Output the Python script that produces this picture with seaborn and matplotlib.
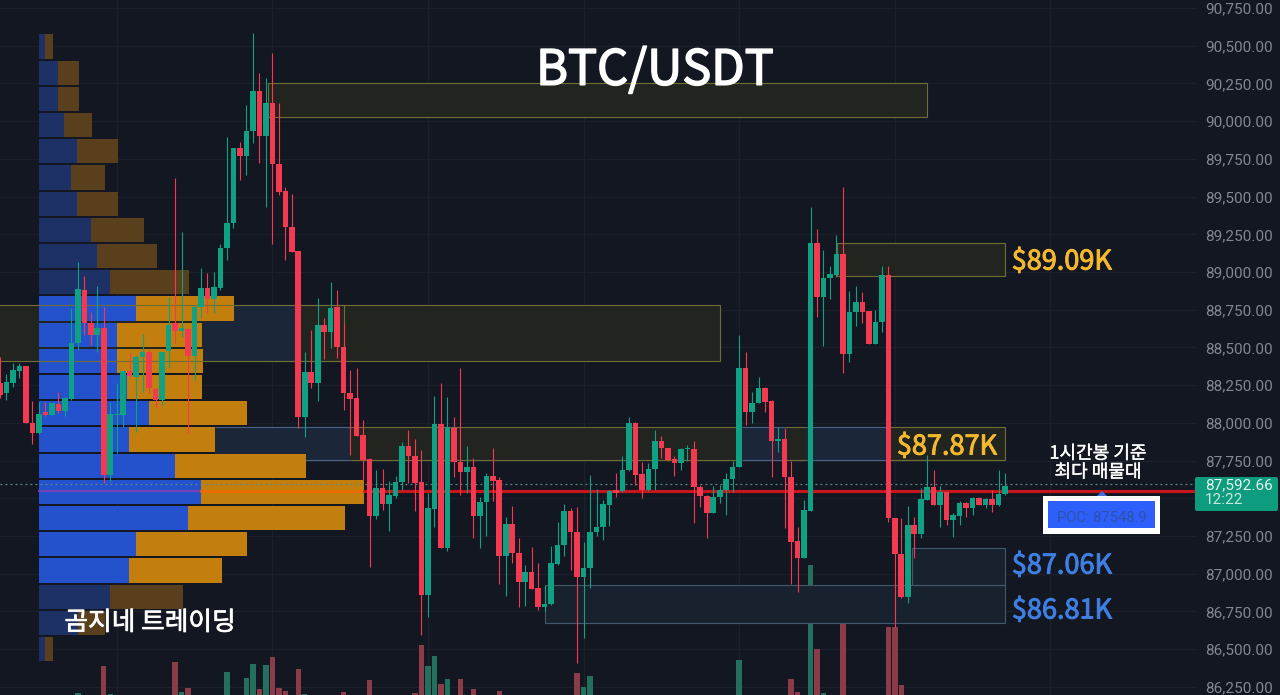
# plot.py - BTC/USDT 1h chart with volume profile and marked zones

import numpy as np
import pandas as pd
import seaborn as sns
import matplotlib.pyplot as plt
import matplotlib.patheffects as pe
from matplotlib.patches import Rectangle, FancyBboxPatch, Polygon
from matplotlib.ticker import FuncFormatter
from matplotlib.transforms import Affine2D

# ---------------- DATA ----------------
OPENS = [
    88264, 88198, 88264, 88344, 88377, 88000, 87933, 88072, 88052, 88125,
    88079, 88158, 88530, 88881, 88662, 88583, 88629, 87655, 88052, 88052,
    88344, 88304, 88437, 88470, 88225, 88152, 88477, 88662, 88609, 88622,
    88443, 88768, 88894, 88821, 88894, 89159, 89325, 89822, 89769, 89935,
    90200, 89902, 90120, 89716, 89537, 89298, 89139, 88039, 88337, 88264,
    88649, 88603, 88768, 88503, 88198, 88165, 87920, 87761, 87383, 87569,
    87463, 87516, 87608, 87847, 87781, 87608, 86859, 87429, 87993, 87171,
    87966, 87741, 87675, 87708, 87383, 87476, 87648, 87622, 87118, 87330,
    87138, 86946, 87012, 86906, 86780, 86800, 87065, 87191, 87416, 87277,
    86979, 87038, 87277, 87310, 87456, 87555, 87549, 87688, 88000, 87661,
    87555, 87694, 87880, 87834, 87761, 87734, 87827, 87827, 87575, 87516,
    87403, 87509, 87555, 87628, 87708, 88364, 88072, 88132, 88231, 88145,
    87880, 87893, 87641, 87217, 87105, 87416, 89192, 88834, 88960, 88980,
    89120, 88457, 88735, 88801, 88742, 88523, 88669, 88980, 87370, 87131,
    86846, 87323, 87264, 87489, 87575, 87456, 87542, 87356, 87383, 87469,
    87436, 87502, 87456, 87496, 87456, 87529,
]
CLOSES = [
    88185, 88271, 88351, 88377, 88000, 87933, 88059, 88052, 88132, 88079,
    88165, 88530, 88888, 88662, 88583, 88629, 87655, 88059, 88059, 88344,
    88311, 88437, 88470, 88231, 88152, 88470, 88649, 88609, 88629, 88443,
    88768, 88894, 88821, 88901, 89159, 89325, 89822, 89769, 89935, 90200,
    89902, 90120, 89716, 89530, 89298, 89133, 88039, 88337, 88264, 88649,
    88603, 88762, 88503, 88198, 88158, 87913, 87754, 87383, 87569, 87463,
    87522, 87608, 87847, 87781, 87602, 86859, 87436, 87993, 87171, 87973,
    87741, 87675, 87708, 87383, 87476, 87648, 87615, 87118, 87330, 87138,
    86946, 87012, 86899, 86780, 86800, 87071, 87191, 87416, 87277, 86979,
    87038, 87277, 87310, 87463, 87549, 87535, 87688, 88000, 87655, 87555,
    87694, 87880, 87834, 87754, 87734, 87827, 87834, 87575, 87516, 87403,
    87509, 87555, 87628, 87708, 88364, 88072, 88132, 88231, 88139, 87880,
    87893, 87641, 87211, 87105, 87423, 89192, 88834, 88960, 88987, 89120,
    88457, 88735, 88801, 88735, 88523, 88669, 88980, 87370, 87131, 86846,
    87323, 87264, 87496, 87575, 87456, 87542, 87356, 87390, 87469, 87436,
    87502, 87456, 87496, 87456, 87529, 87582,
]
HIGHS = [
    88437, 88324, 88397, 88397, 88377, 88145, 88139, 88139, 88132, 88205,
    88172, 88762, 89066, 88974, 88735, 88907, 88768, 88139, 88264, 88344,
    88463, 88450, 88589, 88483, 88231, 88470, 88834, 89623, 89265, 88629,
    88781, 89027, 88994, 89000, 89186, 89895, 89822, 89862, 90107, 90584,
    90319, 90286, 90452, 90120, 89564, 89517, 89139, 88470, 88616, 88828,
    88695, 88934, 88881, 88662, 88351, 88364, 88019, 87767, 87688, 87694,
    87615, 87648, 87873, 87953, 87893, 87820, 87535, 88178, 88264, 88172,
    88039, 88364, 87847, 87767, 87509, 87668, 87834, 87641, 87376, 87449,
    87237, 87058, 87178, 87071, 86926, 87184, 87343, 87463, 87436, 87443,
    87211, 87655, 87562, 87489, 87555, 87668, 87781, 88039, 88006, 87741,
    87734, 87953, 87913, 87834, 87781, 87834, 87853, 87880, 87588, 87522,
    87582, 87588, 87668, 87748, 88583, 88470, 88205, 88304, 88238, 88152,
    87973, 87966, 87748, 87310, 87489, 89431, 89285, 89146, 89040, 89245,
    89564, 88874, 88907, 88868, 88742, 88748, 89040, 89040, 87370, 87370,
    87449, 87376, 87569, 87787, 87688, 87582, 87542, 87403, 87482, 87476,
    87509, 87509, 87502, 87555, 87688, 87668,
]
LOWS = [
    88165, 88152, 88238, 88298, 88000, 87860, 87926, 88046, 88052, 88066,
    88046, 88152, 88483, 88583, 88516, 88470, 87602, 87615, 87801, 87973,
    88304, 87940, 88205, 88198, 88099, 88119, 88364, 88530, 88569, 87933,
    88284, 88695, 88728, 88728, 88881, 89080, 89292, 89610, 89643, 89855,
    89723, 89431, 89186, 89511, 89080, 89133, 87966, 87907, 88231, 88145,
    88424, 88496, 88430, 88086, 87787, 87913, 87622, 87045, 87363, 87423,
    87284, 87502, 87555, 87602, 87416, 86594, 86714, 87310, 87171, 87151,
    87641, 87522, 87535, 87237, 87171, 87250, 87482, 86932, 86853, 87071,
    86780, 86787, 86899, 86760, 86753, 86793, 87058, 87118, 87025, 86409,
    86574, 86906, 87250, 87224, 87317, 87509, 87542, 87681, 87588, 87502,
    87549, 87555, 87767, 87748, 87648, 87688, 87748, 87337, 87443, 87237,
    87403, 87469, 87390, 87542, 87708, 87986, 88000, 88132, 88072, 87641,
    87807, 87303, 86932, 86879, 87105, 87416, 88702, 88510, 88821, 88967,
    88331, 88404, 88642, 88662, 88523, 88523, 88603, 87343, 86647, 86839,
    86806, 87105, 87237, 87489, 87456, 87310, 87323, 87244, 87323, 87376,
    87390, 87456, 87436, 87410, 87449, 87522,
]

# volume only for bars that reach into the frame (other bars are cropped away)
VOLUME_BARS = [
    12, 16, 17, 27, 28, 29, 35, 38, 39, 40, 41, 42, 43, 44, 46, 47, 53, 57,
    64, 65, 66, 67, 68, 69, 71, 73, 77, 89, 90, 91, 114, 122, 123, 125, 126,
    127, 130, 137, 138, 139,
]
VOLUMES = [
    2, 29, 1, 33, 3, 7, 23, 17, 31, 6, 30, 38, 7, 4, 26, 1, 3, 15,
    2, 50, 29, 39, 11, 16, 16, 6, 4, 22, 8, 19, 35, 16, 3, 130, 46,
    2, 72, 68, 68, 10,
]

PROFILE_PRICES = [
    90495, 90321, 90147, 89974, 89800, 89627, 89453, 89279, 89106, 88932,
    88758, 88585, 88411, 88237, 88064, 87890, 87716, 87543, 87369, 87195,
    87022, 86848, 86674, 86501,
]
PROFILE_BUY = [
    6.5, 19.5, 19.5, 25.5, 38.5, 32.5, 38.5, 52.5, 58.5, 71.5, 97.5, 78.5,
    78, 88.5, 110.5, 90.5, 136.5, 162.5, 149.5, 97.5, 90.5, 71.5, 39.5, 6.5,
]
PROFILE_SELL = [
    7.7, 21, 21, 28, 41, 34, 41, 53, 60, 79, 98, 85,
    86, 75, 98, 86, 131, 163, 157, 111, 93, 73, 27, 7.7,
]
VALUE_AREA = [False] * 10 + [True] * 11 + [False] * 3

# (first bar, last bar, low price, high price, kind)
ZONES = [
    (41.3, 143.0, 90027, 90253, "yellow"),
    (-1.0, 111.0, 88410, 88781, "yellow"),
    (46.3, 53.05, 88410, 88781, "yellow"),
    (31.3, 46.3, 88410, 88781, "blue"),
    (33.2, 54.0, 87757, 87970, "blue"),
    (54.0, 114.0, 87757, 87970, "band"),
    (114.4, 121.0, 87757, 87970, "blue"),
    (121.0, 124.3, 87757, 87970, "band"),
    (124.3, 137.0, 87757, 87970, "blue"),
    (137.0, 155.0, 87757, 87970, "yellow"),
    (137.0, 153.0, 87757, 87970, "band"),
    (129.1, 155.0, 88974, 89192, "yellow"),
    (140.7, 155.0, 86926, 87171, "slate"),
    (84.05, 155.0, 86674, 86926, "slate"),
]

PRICE_TICKS = list(range(86250, 90751, 250))
DAY_TICKS = [18, 42, 66, 90, 114, 138, 162]
POC_PRICE = 87548.9
LAST_PRICE = 87592.66
# ----------------------------------------

BG = "#131722"
GREEN = "#0ea183"
RED = "#f33a50"
GREEN_VOL = "#24705f"
RED_VOL = "#8c3c49"
ZONE_STYLE = {
    "yellow": ("#222420", "#6f6e35"),
    "band": ("#222420", "#6f6e35"),
    "blue": ("#1b2739", "#46648e"),
    "slate": ("#18222f", "#41596a"),
}
KR_FONT = ["Noto Sans CJK KR", "DejaVu Sans"]

BAR_PX = 6.484
PRICE_PX = 6.628
AXES_W = 1196
VOL_FLOOR = 86197

sns.set_theme(style="dark", rc={
    "figure.facecolor": BG,
    "axes.facecolor": BG,
    "savefig.facecolor": BG,
})
plt.rcParams["font.family"] = KR_FONT

fig = plt.figure(figsize=(12.8, 6.95), dpi=100)
ax = fig.add_axes([0, 0, AXES_W / 1280, 1])

# image pixel coordinates, only for the overlays drawn by hand on the screenshot
px = Affine2D().scale(1 / 1280, -1 / 695).translate(0, 1) + fig.transFigure


def thick(color, width):
    # the installed CJK face is lighter than the one in the picture
    return [pe.withStroke(linewidth=width, foreground=color)]


candles = pd.DataFrame({"open": OPENS, "close": CLOSES, "high": HIGHS, "low": LOWS})
candles["bar"] = candles.index
candles["up"] = candles["close"] >= candles["open"]
candles["base"] = candles[["open", "close"]].min(axis=1)
candles["body"] = (candles["close"] - candles["open"]).abs()

# volume along the bottom edge
vol = pd.DataFrame({"bar": VOLUME_BARS, "volume": VOLUMES})
vol["up"] = candles.loc[vol["bar"], "up"].values
vol["height"] = vol["volume"] * PRICE_PX
for up, color in [(True, GREEN_VOL), (False, RED_VOL)]:
    part = vol[vol["up"] == up]
    sns.barplot(data=part, x="bar", y="height", native_scale=True, ax=ax, color=color,
                saturation=1, width=0.84, errorbar=None, bottom=VOL_FLOOR,
                linewidth=0, zorder=1)

# zones
for x0, x1, low, high, kind in ZONES:
    fill, edge = ZONE_STYLE[kind]
    ax.add_patch(Rectangle((x0, low), x1 - x0, high - low, facecolor=fill, edgecolor="none", zorder=1.5))
for x0, x1, low, high, kind in ZONES:
    fill, edge = ZONE_STYLE[kind]
    if kind == "blue":
        # neighbouring boxes share these sides, and blue edges stay under the profile
        ax.hlines([low, high], x0, x1, color=edge, lw=0.8, zorder=2)
    elif kind == "band":
        ax.hlines([low, high], x0, x1, color=edge, lw=0.8, zorder=3.5)
    else:
        ax.add_patch(Rectangle((x0, low), x1 - x0, high - low, facecolor="none", edgecolor=edge,
                               linewidth=0.8, zorder=3.5))

# volume profile
profile = pd.DataFrame({"price": PROFILE_PRICES, "buy": PROFILE_BUY, "sell": PROFILE_SELL, "area": VALUE_AREA})
profile = profile.sort_values("price").reset_index(drop=True)
profile["buy_w"] = profile["buy"] / BAR_PX
profile["sell_w"] = profile["sell"] / BAR_PX
PROFILE_LEFT = 38.5 / BAR_PX
for area, blue, orange in [(False, "#1d3166", "#5a3f1c"), (True, "#2452cc", "#c27f0d")]:
    part = profile[profile["area"] == area]
    sns.barplot(data=part, y="price", x="buy_w", orient="y", native_scale=True, ax=ax, color=blue,
                saturation=1, width=0.93, errorbar=None, left=PROFILE_LEFT,
                linewidth=0, zorder=3)
    sns.barplot(data=part, y="price", x="sell_w", orient="y", native_scale=True, ax=ax, color=orange,
                saturation=1, width=0.93, errorbar=None, left=PROFILE_LEFT + part["buy_w"].values,
                linewidth=0, zorder=3)

# POC and last price lines
buy_poc = PROFILE_LEFT + profile.loc[profile["price"] == 87543, "buy_w"].iloc[0]
sell_poc = buy_poc + profile.loc[profile["price"] == 87543, "sell_w"].iloc[0]
ax.plot([PROFILE_LEFT, buy_poc], [POC_PRICE, POC_PRICE], color="#6f45b8", lw=1.6, zorder=3.6)
ax.plot([buy_poc, sell_poc], [POC_PRICE, POC_PRICE], color="#ea6c02", lw=2.2, zorder=3.6)
ax.plot([sell_poc, AXES_W / BAR_PX], [POC_PRICE, POC_PRICE], color="#c8161c", lw=2.2, zorder=3.6)
ax.plot([0, AXES_W / BAR_PX], [LAST_PRICE, LAST_PRICE], color="#5f8a86", lw=0.9, ls=(0, (1.5, 2.5)), zorder=3.6)

# candles
for up, color in [(True, GREEN), (False, RED)]:
    part = candles[candles["up"] == up]
    ax.vlines(part["bar"], part["low"], part["high"], color=color, lw=0.8, zorder=4)
    sns.barplot(data=part, x="bar", y="body", native_scale=True, ax=ax, color=color,
                saturation=1, width=0.86, errorbar=None, bottom=part["base"].values,
                linewidth=0, zorder=4.1)

# axes
ax.set_xlim(0, AXES_W / BAR_PX)
ax.set_ylim(90803 - 695 * PRICE_PX, 90803)
ax.set_xlabel("")
ax.set_ylabel("")
ax.set_xticks(DAY_TICKS)
ax.set_xticklabels([])
ax.set_yticks(PRICE_TICKS)
ax.yaxis.tick_right()
# the 87,500 label sits under the last price tag
ax.yaxis.set_major_formatter(FuncFormatter(lambda v, _: "" if v == 87500 else f"{v:,.2f}"))
ax.tick_params(axis="y", length=0, pad=6.5, labelcolor="#85878e", labelsize=11)
ax.tick_params(axis="x", length=0)
for label in ax.get_yticklabels():
    label.set_family("Roboto")
ax.grid(True, color="#1c202b", linewidth=1)
ax.set_axisbelow(True)
sns.despine(ax=ax, left=True, bottom=True, right=True, top=True)

# overlays
ax.text(655, 71, "BTC/USDT", transform=px, color="white", fontsize=35, ha="center", va="center",
        path_effects=thick("white", 1.1), zorder=6)
for x, y, text, color in [(1062, 262, "$89.09K", "#f4b92c"), (947, 447, "$87.87K", "#f4b92c"),
                          (1062, 566, "$87.06K", "#3f7fe2"), (1062, 611, "$86.81K", "#3f7fe2")]:
    ax.text(x, y, text, transform=px, color=color, fontsize=19.5, ha="center", va="center",
            path_effects=thick(color, 0.7), zorder=6)
ax.text(1098, 463, "1시간봉 기준\n최다 매물대", transform=px, color="white", fontsize=13,
        ha="center", va="center", linespacing=1.05, path_effects=thick("white", 0.3), zorder=6)
ax.text(150, 623, "곰지네 트레이딩", transform=px, color="white", fontsize=18.5, ha="center", va="center",
        path_effects=thick("white", 0.5), zorder=6)

# POC label
ax.add_patch(Polygon([(1097, 496), (1107, 496), (1102, 491)], closed=True, transform=px,
                     facecolor="#3d6fe0", edgecolor="none", zorder=5, clip_on=False))
ax.add_patch(Rectangle((1043, 496), 117, 38, transform=px, facecolor="white", edgecolor="none", zorder=5))
ax.add_patch(Rectangle((1048, 501), 107, 27, transform=px, facecolor="#2d5ffa", edgecolor="none", zorder=5.1))
ax.text(1102, 518, f"POC: {POC_PRICE}", transform=px, color="#3050a8", fontsize=10.6, ha="center", va="center",
        family="Roboto", zorder=5.2)

# last price tag
ax.add_patch(FancyBboxPatch((1196, 478), 81, 32, boxstyle="round,pad=1,rounding_size=2", transform=px,
                            facecolor="#0d9c7e", edgecolor="none", zorder=5, clip_on=False))
ax.text(1205, 485, f"{LAST_PRICE:,.2f}", transform=px, color="#e8f5f1", fontsize=11, ha="left", va="center",
        family="Roboto", zorder=6, clip_on=False)
ax.text(1205, 500, "12:22", transform=px, color="#c9e8df", fontsize=11, ha="left", va="center",
        family="Roboto", zorder=6, clip_on=False)

fig.savefig("out.png", dpi=100)
